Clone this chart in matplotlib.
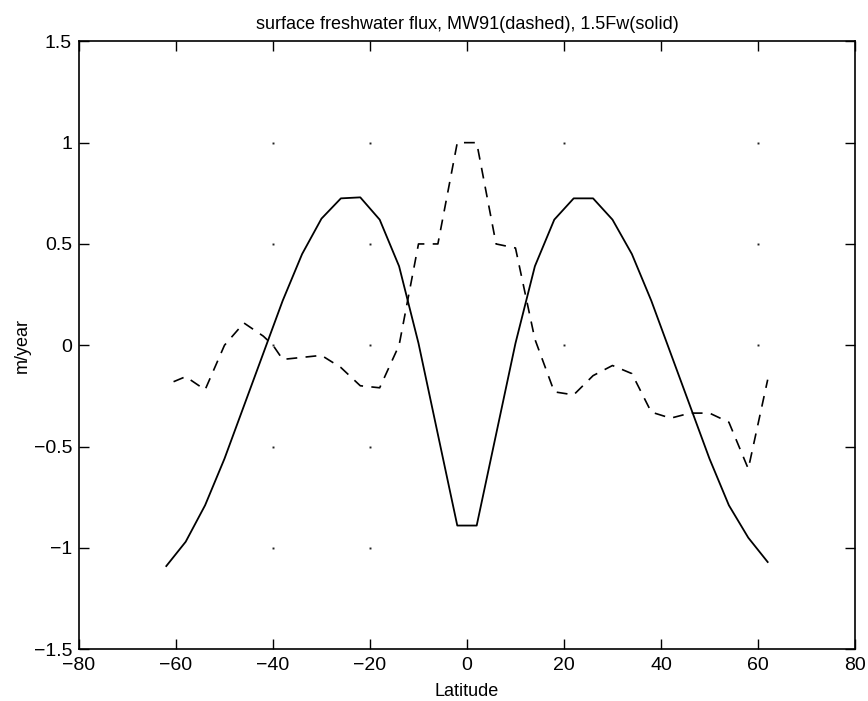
import matplotlib.pyplot as plt
import numpy as np

# 1.5Fw (solid) - 4 degree grid
lat_fw = [-62, -58, -54, -50, -46, -42, -38, -34, -30, -26, -22, -18, -14, -10, -6, -2,
          2, 6, 10, 14, 18, 22, 26, 30, 34, 38, 42, 46, 50, 54, 58, 62]
flux_fw = [-1.09, -0.97, -0.79, -0.56, -0.30, -0.04, 0.22, 0.45, 0.625, 0.725, 0.73, 0.62,
           0.39, 0.01, -0.44, -0.89,
           -0.89, -0.44, 0.01, 0.39, 0.62, 0.725, 0.725, 0.62, 0.45, 0.22, -0.04, -0.30,
           -0.56, -0.79, -0.95, -1.07]

# MW91 (dashed)
lat_mw = [-60.5, -58, -54, -50, -46, -42, -40, -38, -34, -30, -26, -22, -18, -14, -10, -6,
          -2, 2, 6, 10, 14, 18, 22, 26, 30, 34, 38, 42, 46, 50, 54, 58, 62]
flux_mw = [-0.18, -0.155, -0.22, 0.0, 0.11, 0.045, 0.0, -0.07, -0.06, -0.05, -0.11, -0.20,
           -0.21, 0.0, 0.5, 0.5, 1.0, 1.0, 0.5, 0.48, 0.03, -0.23, -0.245, -0.15, -0.10,
           -0.14, -0.33, -0.36, -0.335, -0.335, -0.38, -0.61, -0.17]

xticks = np.arange(-80, 81, 20)
yticks = np.arange(-1.5, 1.51, 0.5)

# dotted grid: only these crossings survived in the scanned print
dot_x = [-40, -20, 20, 60, -40, -20, 60, -40, -20, 20, 60, -40, -20, -40, -20]
dot_y = [1, 1, 1, 1, 0.5, 0.5, 0.5, 0, 0, 0, 0, -0.5, -0.5, -1, -1]

plt.rcParams['font.family'] = 'Liberation Sans'

fig = plt.figure(figsize=(8.68, 7.01), dpi=100)
ax = fig.add_axes([0.091, 0.074, 0.894, 0.867])

ax.plot(lat_fw, flux_fw, color='black', linewidth=1.3)
ax.plot(lat_mw, flux_mw, color='black', linewidth=1.2, linestyle=(0, (6.5, 5)))

ax.plot(dot_x, dot_y, linestyle='none', marker='s', markersize=1.4,
        color='#222222', markeredgewidth=0)

ax.set_xlim(-80, 80)
ax.set_ylim(-1.5, 1.5)
ax.set_xticks(xticks)
ax.set_yticks(yticks)
ax.set_xticklabels([f'{v:g}'.replace('-', '\u2212') for v in xticks])
ax.set_yticklabels([f'{v:g}'.replace('-', '\u2212') for v in yticks])
ax.tick_params(direction='in', length=7, width=1, top=True, right=True,
               labelsize=14, colors='black')
ax.tick_params(axis='x', pad=6)
ax.tick_params(axis='y', pad=5)
for s in ax.spines.values():
    s.set_linewidth(1.2)

ax.set_xlabel('Latitude', fontsize=13, labelpad=6)
ax.set_ylabel('m/year', fontsize=13, labelpad=2)
ax.set_title('surface freshwater flux, MW91(dashed), 1.5Fw(solid)', fontsize=13, pad=9)

plt.savefig('out.png', dpi=100)
